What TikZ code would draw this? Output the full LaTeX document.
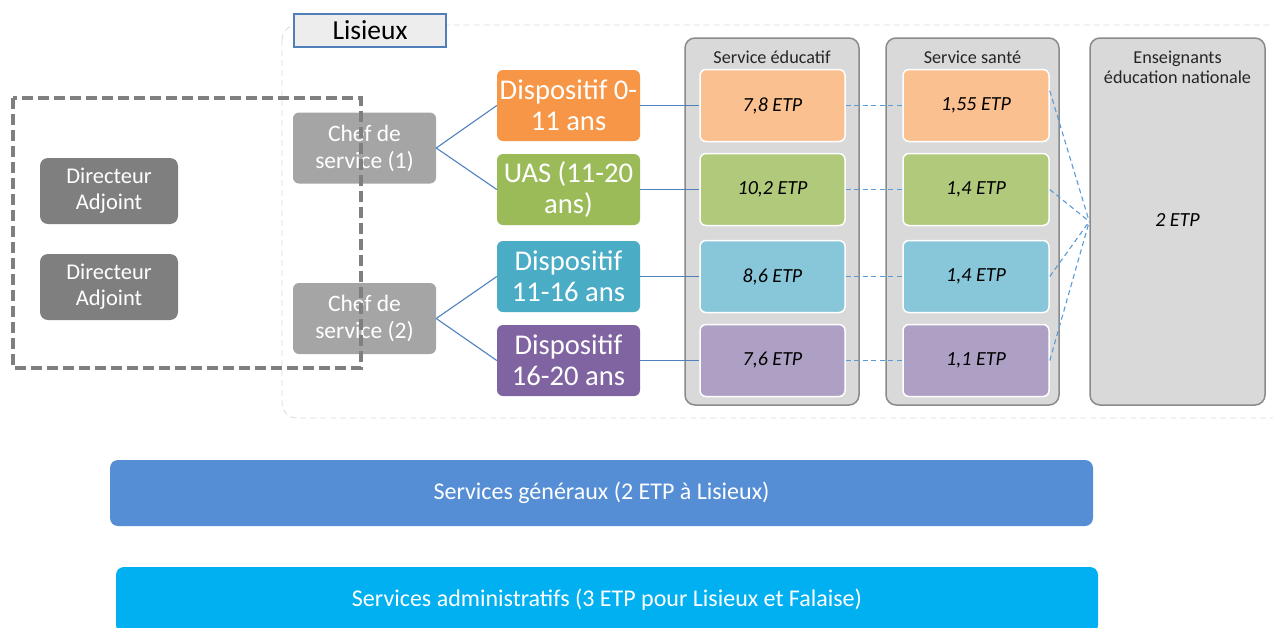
\documentclass[tikz,border=0pt]{standalone}
\usepackage{fontspec}
\setmainfont{Carlito}
\usepackage{tikz}

\definecolor{dirgray}{HTML}{7F7F7F}
\definecolor{chefgray}{HTML}{A5A5A5}
\definecolor{lisfill}{HTML}{EDEDED}
\definecolor{lisline}{HTML}{4F7FB8}
\definecolor{orangeA}{HTML}{F79646}
\definecolor{greenA}{HTML}{9BBB59}
\definecolor{tealA}{HTML}{4BACC6}
\definecolor{purpleA}{HTML}{8064A2}
\definecolor{orangeB}{HTML}{FAC090}
\definecolor{greenB}{HTML}{B0C97B}
\definecolor{tealB}{HTML}{88C6D9}
\definecolor{purpleB}{HTML}{AE9FC4}
\definecolor{colfill}{HTML}{D9D9D9}
\definecolor{colline}{HTML}{8A8A8A}
\definecolor{treeblue}{HTML}{4F81BD}
\definecolor{dashblue}{HTML}{5B9BD5}
\definecolor{genblue}{HTML}{558ED5}
\definecolor{admblue}{HTML}{00B0F0}

\tikzset{
  dirnode/.style={rounded corners=8pt,fill=dirgray,text=white,minimum width=138pt,minimum height=66pt,align=center,font=\fontsize{22.5}{26}\selectfont,inner sep=0pt},
  chefnode/.style={rounded corners=6pt,fill=chefgray,text=white,minimum width=143pt,minimum height=71pt,align=center,font=\fontsize{23.5}{27}\selectfont,inner sep=0pt},
  dispnode/.style={rounded corners=6pt,text=white,minimum width=143pt,minimum height=71pt,align=center,font=\fontsize{28.6}{31}\selectfont,inner sep=0pt},
  colnode/.style={rounded corners=10pt,fill=colfill,draw=colline,line width=1.5pt,minimum height=367pt,inner sep=0pt},
  etpnode/.style={rounded corners=6pt,draw=white,line width=1.5pt,minimum height=72pt,font=\fontsize{20}{22}\selectfont\itshape,inner sep=0pt},
  title/.style={font=\fontsize{18.2}{20}\selectfont,text=black!85,align=center,inner sep=0pt},
  barnode/.style={rounded corners=8pt,text=white,minimum height=66pt,font=\fontsize{24}{26}\selectfont,inner sep=0pt},
  tree/.style={draw=treeblue,line width=1.1pt},
  dlink/.style={draw=dashblue,line width=1.1pt,dash pattern=on 5pt off 3.5pt},
}

\begin{document}
\begin{tikzpicture}[x=1pt,y=-1pt]
	\useasboundingbox (0,0) rectangle (1273,627);
	\clip (0,0) rectangle (1273,627);
	
	% cadre Lisieux
	\draw[draw=black!15,line width=0.8pt,dash pattern=on 6pt off 4pt,rounded corners=15pt] (282,25) rectangle (1300,418);
	\node[fill=lisfill,draw=lisline,line width=1.2pt,minimum width=152pt,minimum height=33pt,inner sep=0pt,font=\fontsize{27.5}{30}\selectfont] (lis) at (370,30.5) {Lisieux};
	
	\node[dirnode] (dir1) at (109,191) {Directeur\\Adjoint};
	\node[dirnode] (dir2) at (109,287) {Directeur\\Adjoint};
	
	\node[chefnode] (chef1) at (364.5,148)   {Chef de\\service (1)};
	\node[chefnode] (chef2) at (364.5,318.5) {Chef de\\service (2)};
	
	\node[dispnode,fill=orangeA] (disp1) at (568.5,105.5) {Dispositif 0-\\11 ans};
	\node[dispnode,fill=greenA]  (disp2) at (568.5,189.5) {UAS (11-20\\ans)};
	\node[dispnode,fill=tealA]   (disp3) at (568.5,276.5) {Dispositif\\11-16 ans};
	\node[dispnode,fill=purpleA] (disp4) at (568.5,360.5) {Dispositif\\16-20 ans};
	
	% colonnes
	\node[colnode,minimum width=174pt] (edu) at (772,221.5)  {};
	\node[colnode,minimum width=173pt] (san) at (972.5,221.5) {};
	\node[colnode,minimum width=175pt] (ens) at (1177.5,221.5) {};
	\node[title] (edut) at (772,57)   {Service éducatif};
	\node[title] (sant) at (972.5,57) {Service santé};
	\node[title] (enst) at (1177.5,67) {Enseignants\\éducation nationale};
	\node[font=\fontsize{20}{22}\selectfont\itshape] (ensv) at (1177.5,220) {2 ETP};
	
	\node[etpnode,fill=orangeB,minimum width=145pt] (edu1) at (772.5,105.5) {7,8 ETP};
	\node[etpnode,fill=greenB,minimum width=145pt]  (edu2) at (772.5,189.5) {10,2 ETP};
	\node[etpnode,fill=tealB,minimum width=145pt]   (edu3) at (772.5,276.5) {8,6 ETP};
	\node[etpnode,fill=purpleB,minimum width=145pt] (edu4) at (772.5,360.5) {7,6 ETP};
	
	\node[etpnode,fill=orangeB,minimum width=146pt] (san1) at (976,105.5) {1,55 ETP};
	\node[etpnode,fill=greenB,minimum width=146pt]  (san2) at (976,189.5) {1,4 ETP};
	\node[etpnode,fill=tealB,minimum width=146pt]   (san3) at (976,276.5) {1,4 ETP};
	\node[etpnode,fill=purpleB,minimum width=146pt] (san4) at (976,360.5) {1,1 ETP};
	
	\path[tree] (chef1.east) -- (disp1.west);
	\path[tree] (chef1.east) -- (disp2.west);
	\path[tree] (chef2.east) -- (disp3.west);
	\path[tree] (chef2.east) -- (disp4.west);
	
	\path[tree] (disp1) -- (edu1);
	\path[tree] (disp2) -- (edu2);
	\path[tree] (disp3) -- (edu3);
	\path[tree] (disp4) -- (edu4);
	
	\path[dlink] (edu1) -- (san1);
	\path[dlink] (edu2) -- (san2);
	\path[dlink] (edu3) -- (san3);
	\path[dlink] (edu4) -- (san4);
	
	\path[dlink] (san1.north east) ++(0,22) -- (ens.west);
	\path[dlink] (san2.east) -- (ens.west);
	\path[dlink] (san3.east) -- (ens.west);
	\path[dlink] (san4.east) -- (ens.west);
	
	% direction
	\draw[draw=dirgray,line width=4pt,dash pattern=on 11pt off 5pt] (13,98) rectangle (361,368);
	
	\node[barnode,fill=genblue,minimum width=983pt] (gen) at (601.5,493) {Services généraux (2 ETP à Lisieux)};
	\node[barnode,fill=admblue,minimum width=982pt] (adm) at (607,600) {Services administratifs (3 ETP pour Lisieux et Falaise)};
	
\end{tikzpicture}
\end{document}
